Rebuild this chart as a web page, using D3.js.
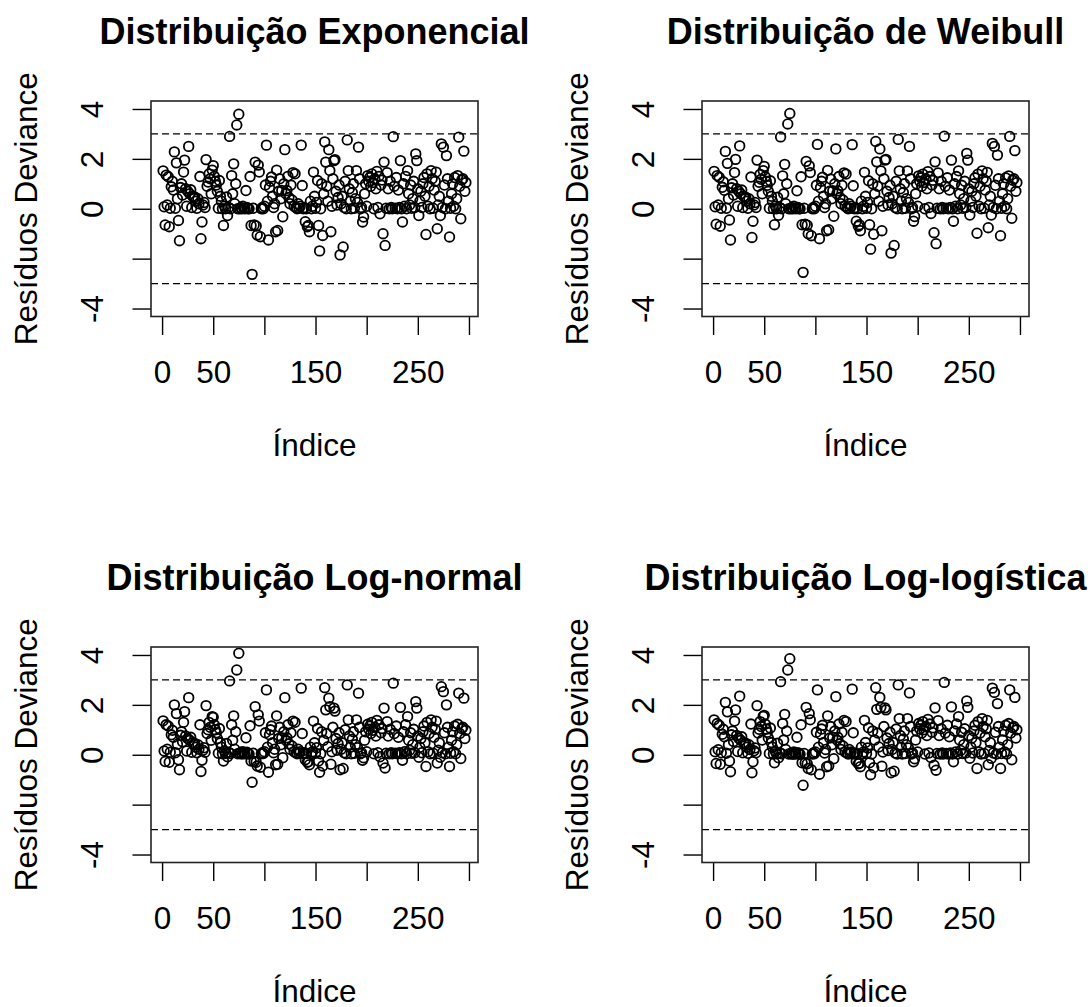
<!DOCTYPE html>
<html>
<head>
<meta charset="utf-8">
<script src="https://cdn.jsdelivr.net/npm/d3@7"></script>
<style>
    body { margin: 0; background: #fff; }
    text { font-family: 'Liberation Sans', Arial, sans-serif; fill: #000; }
</style>
</head>
<body>
<div id="chart"></div>
<script>
// residuos deviance (indice 1..297)
const residExp = [
    1.52, 0.08, -0.65, 1.35, 0.15, 1.28, -0.72, 0.02, 0.88, 1.10,
    0.75, 2.28, 0.02, 1.84, 0.40, -0.47, -1.28, 0.85, 1.00, 0.55,
    1.47, 1.95, 0.80, 0.10, 0.70, 2.50, 0.60, 0.76, 0.05, 0.50,
    0.45, 0.47, 0.30, 0.02, 0.40, 0.20, 1.29, -1.20, -0.53, 0.15,
    0.25, 0.05, 1.97, 0.90, 1.07, 1.40, 1.20, 0.60, 1.55, 1.73,
    1.30, 1.10, 0.95, 0.70, 0.02, 1.13, 0.50, 0.30, 0.00, -0.67,
    0.10, 0.00, 0.47, -0.27, 0.05, 2.90, 0.00, 1.33, 0.60, 1.80,
    0.20, 1.00, 3.36, 0.00, 3.79, 0.00, 0.05, 0.00, 0.10, 0.02,
    0.00, 0.73, 0.05, 0.00, 0.00, 1.29, -0.67, -2.63, 0.02, -0.65,
    1.87, -0.69, -1.05, 1.75, 1.47, -1.12, 0.00, 0.05, 0.00, 0.10,
    0.95, 2.55, 0.30, -1.25, 0.85, 1.10, 1.27, 0.50, 0.05, 0.20,
    -0.92, 1.55, -0.87, 0.70, 1.20, 0.40, 0.73, -0.32, 1.00, 2.37,
    0.60, 0.73, 1.30, 0.45, 0.20, 0.95, 0.35, 1.45, 0.10, 1.40,
    0.05, 0.00, 0.20, 0.02, 0.10, 2.55, 0.93, 0.00, 0.05, -0.52,
    0.00, -0.72, -0.67, -0.92, 0.30, 0.00, 0.10, 1.47, 0.50, 0.02,
    0.25, 1.13, -0.67, -1.69, 0.00, 1.00, -1.07, 0.60, 2.68, 1.87,
    0.90, 0.30, 2.37, 1.53, -0.92, 0.10, 1.20, 1.93, 1.97, 0.70,
    0.15, 0.45, 0.95, -1.85, 0.20, 0.50, -1.53, 0.05, 1.10, 0.00,
    2.76, 1.53, 0.80, 0.30, 0.00, 0.65, 1.00, 0.02, 0.40, 1.53,
    0.25, 2.47, 1.20, 0.00, 0.05, -0.53, -0.33, 0.60, 1.00, 0.10,
    1.33, 1.10, 1.25, 0.90, 1.40, 1.05, 0.00, 1.20, 0.80, 1.50,
    0.05, 1.30, -0.20, 0.95, 1.15, -1.00, 1.87, -1.47, 0.02, 1.45,
    0.80, 0.00, 1.10, 0.05, 0.00, 2.89, 0.90, 0.02, 1.25, 0.00,
    0.75, 0.05, 1.93, 0.00, -0.53, 1.00, 0.10, 1.30, 0.00, 1.53,
    0.60, 0.15, 0.95, 0.02, 0.40, 1.10, 0.05, 2.20, 1.93, 0.80,
    -0.27, 0.30, 0.70, 0.05, 1.00, 1.25, 0.50, -1.03, 1.40, 0.10,
    0.90, 0.00, 1.53, 1.20, 0.02, 0.75, 1.10, 1.47, -0.80, 0.15,
    0.50, -0.27, 2.60, 0.05, 2.47, 0.95, 0.00, 2.13, 1.20, 0.30,
    -1.13, 0.02, 0.60, 1.00, 0.10, 1.25, 0.00, 0.40, 1.33, 2.87,
    0.90, -0.40, 1.15, 1.20, 2.31, 0.70, 1.05
]

const residWeib = [
    1.50, 0.08, -0.62, 1.33, 0.15, 1.26, -0.70, 0.02, 0.86, 1.08,
    0.74, 2.30, 0.02, 1.82, 0.40, -0.45, -1.25, 0.84, 1.00, 0.55,
    1.45, 1.98, 0.80, 0.10, 0.70, 2.52, 0.60, 0.75, 0.05, 0.50,
    0.45, 0.46, 0.30, 0.02, 0.40, 0.20, 1.27, -1.15, -0.50, 0.15,
    0.25, 0.05, 1.95, 0.90, 1.06, 1.38, 1.18, 0.60, 1.53, 1.70,
    1.28, 1.10, 0.94, 0.70, 0.02, 1.12, 0.50, 0.30, 0.00, -0.64,
    0.10, 0.00, 0.46, -0.26, 0.05, 2.88, 0.00, 1.32, 0.60, 1.78,
    0.20, 1.00, 3.40, 0.00, 3.82, 0.00, 0.05, 0.00, 0.10, 0.02,
    0.00, 0.72, 0.05, 0.00, 0.00, 1.28, -0.64, -2.55, 0.02, -0.62,
    1.90, -0.66, -1.00, 1.72, 1.45, -1.08, 0.00, 0.05, 0.00, 0.10,
    0.94, 2.58, 0.30, -1.20, 0.84, 1.10, 1.26, 0.50, 0.05, 0.20,
    -0.88, 1.54, -0.84, 0.70, 1.19, 0.40, 0.72, -0.30, 1.00, 2.40,
    0.60, 0.72, 1.29, 0.45, 0.20, 0.94, 0.35, 1.44, 0.10, 1.39,
    0.05, 0.00, 0.20, 0.02, 0.10, 2.57, 0.92, 0.00, 0.05, -0.50,
    0.00, -0.70, -0.64, -0.88, 0.30, 0.00, 0.10, 1.46, 0.50, 0.02,
    0.25, 1.12, -0.64, -1.62, 0.00, 1.00, -1.02, 0.60, 2.70, 1.88,
    0.90, 0.30, 2.40, 1.52, -0.88, 0.10, 1.20, 1.95, 1.98, 0.70,
    0.15, 0.45, 0.94, -1.78, 0.20, 0.50, -1.47, 0.05, 1.10, 0.00,
    2.78, 1.52, 0.80, 0.30, 0.00, 0.65, 1.00, 0.02, 0.40, 1.52,
    0.25, 2.50, 1.20, 0.00, 0.05, -0.50, -0.31, 0.60, 1.00, 0.10,
    1.32, 1.10, 1.24, 0.90, 1.39, 1.05, 0.00, 1.20, 0.80, 1.49,
    0.05, 1.29, -0.19, 0.95, 1.14, -0.96, 1.88, -1.40, 0.02, 1.44,
    0.80, 0.00, 1.10, 0.05, 0.00, 2.91, 0.90, 0.02, 1.24, 0.00,
    0.75, 0.05, 1.95, 0.00, -0.50, 1.00, 0.10, 1.29, 0.00, 1.52,
    0.60, 0.15, 0.94, 0.02, 0.40, 1.10, 0.05, 2.22, 1.95, 0.80,
    -0.25, 0.30, 0.70, 0.05, 1.00, 1.24, 0.50, -0.98, 1.39, 0.10,
    0.90, 0.00, 1.52, 1.20, 0.02, 0.75, 1.10, 1.46, -0.76, 0.15,
    0.50, -0.25, 2.62, 0.05, 2.50, 0.94, 0.00, 2.15, 1.20, 0.30,
    -1.08, 0.02, 0.60, 1.00, 0.10, 1.24, 0.00, 0.40, 1.32, 2.90,
    0.90, -0.38, 1.14, 1.20, 2.33, 0.70, 1.05
]

const residLnorm = [
    1.36, 0.15, -0.27, 1.20, 0.22, 1.15, -0.30, 0.10, 0.80, 0.98,
    0.70, 2.00, 0.08, 1.65, 0.42, -0.20, -0.60, 0.78, 0.92, 0.52,
    1.30, 1.73, 0.75, 0.15, 0.65, 2.29, 0.58, 0.70, 0.10, 0.48,
    0.42, 0.45, 0.30, 0.08, 0.40, 0.22, 1.20, -0.67, -0.22, 0.18,
    0.28, 0.10, 1.97, 0.85, 1.00, 1.30, 1.10, 0.58, 1.53, 1.50,
    1.20, 1.00, 0.88, 0.65, 0.06, 1.05, 0.48, 0.30, 0.04, -0.25,
    0.15, 0.05, 0.45, -0.08, 0.10, 2.96, 0.05, 1.20, 0.58, 1.56,
    0.22, 0.92, 3.40, 0.04, 4.07, 0.05, 0.10, 0.03, 0.12, 0.06,
    0.04, 0.68, 0.10, 0.05, 0.03, 1.16, -0.25, -1.10, 0.06, -0.27,
    1.93, -0.30, -0.45, 1.60, 1.35, -0.50, 0.04, 0.08, 0.05, 0.12,
    0.88, 2.60, 0.30, -0.70, 0.80, 1.00, 1.15, 0.48, 0.08, 0.22,
    -0.40, 1.56, -0.38, 0.65, 1.10, 0.40, 0.68, -0.12, 0.92, 2.29,
    0.58, 0.68, 1.20, 0.44, 0.22, 0.88, 0.35, 1.35, 0.12, 1.30,
    0.08, 0.04, 0.22, 0.06, 0.12, 2.67, 0.85, 0.04, 0.08, -0.20,
    0.05, -0.30, -0.28, -0.40, 0.30, 0.04, 0.12, 1.35, 0.48, 0.06,
    0.28, 1.05, -0.25, -0.70, 0.04, 0.92, -0.45, 0.58, 2.69, 1.80,
    0.85, 0.32, 2.27, 1.93, -0.38, 0.12, 1.10, 1.87, 1.75, 0.65,
    0.18, 0.45, 0.88, -0.60, 0.22, 0.48, -0.55, 0.08, 1.00, 0.04,
    2.80, 1.40, 0.75, 0.30, 0.04, 0.62, 0.92, 0.06, 0.40, 1.40,
    0.28, 2.47, 1.10, 0.04, 0.08, -0.22, -0.12, 0.58, 0.92, 0.12,
    1.22, 1.02, 1.15, 0.85, 1.30, 0.98, 0.04, 1.10, 0.75, 1.38,
    0.08, 1.20, -0.08, 0.88, 1.05, -0.33, 1.87, -0.53, 0.06, 1.33,
    0.75, 0.04, 1.02, 0.08, 0.04, 2.87, 0.85, 0.06, 1.15, 0.04,
    0.70, 0.08, 1.90, 0.04, -0.22, 0.92, 0.12, 1.20, 0.04, 1.53,
    0.58, 0.18, 0.88, 0.06, 0.40, 1.02, 0.08, 2.13, 1.87, 0.75,
    -0.10, 0.30, 0.65, 0.08, 0.92, 1.15, 0.48, -0.47, 1.30, 0.12,
    0.85, 0.04, 1.40, 1.10, 0.06, 0.70, 1.02, 1.35, -0.33, 0.18,
    0.48, -0.10, 2.73, 0.08, 2.53, 0.88, 0.04, 2.00, 1.10, 0.30,
    -0.47, 0.06, 0.58, 0.92, 0.12, 1.15, 0.04, 0.40, 1.22, 2.47,
    0.85, -0.15, 1.05, 1.10, 2.27, 0.65, 0.98
]

const residLlog = [
    1.40, 0.12, -0.35, 1.25, 0.20, 1.18, -0.38, 0.08, 0.82, 1.02,
    0.72, 2.10, 0.06, 1.72, 0.40, -0.25, -0.68, 0.80, 0.95, 0.53,
    1.35, 1.80, 0.77, 0.13, 0.66, 2.35, 0.58, 0.72, 0.08, 0.48,
    0.43, 0.46, 0.30, 0.06, 0.40, 0.21, 1.23, -0.72, -0.28, 0.16,
    0.27, 0.08, 1.97, 0.87, 1.02, 1.33, 1.13, 0.59, 1.54, 1.58,
    1.23, 1.03, 0.90, 0.67, 0.05, 1.07, 0.49, 0.30, 0.03, -0.32,
    0.13, 0.04, 0.46, -0.12, 0.08, 2.93, 0.04, 1.25, 0.59, 1.62,
    0.21, 0.95, 3.40, 0.03, 3.85, 0.04, 0.08, 0.02, 0.11, 0.05,
    0.03, 0.70, 0.08, 0.04, 0.02, 1.20, -0.32, -1.22, 0.05, -0.33,
    1.90, -0.36, -0.55, 1.65, 1.40, -0.60, 0.03, 0.07, 0.04, 0.11,
    0.90, 2.60, 0.30, -0.78, 0.82, 1.03, 1.18, 0.49, 0.07, 0.21,
    -0.48, 1.56, -0.45, 0.67, 1.13, 0.40, 0.70, -0.16, 0.95, 2.33,
    0.59, 0.70, 1.23, 0.44, 0.21, 0.90, 0.35, 1.38, 0.11, 1.33,
    0.07, 0.03, 0.21, 0.05, 0.11, 2.63, 0.88, 0.03, 0.07, -0.26,
    0.04, -0.36, -0.34, -0.48, 0.30, 0.03, 0.11, 1.38, 0.49, 0.05,
    0.27, 1.08, -0.32, -0.80, 0.03, 0.95, -0.52, 0.59, 2.69, 1.82,
    0.87, 0.31, 2.30, 1.90, -0.46, 0.11, 1.13, 1.88, 1.80, 0.67,
    0.17, 0.45, 0.90, -0.72, 0.21, 0.49, -0.66, 0.07, 1.03, 0.03,
    2.80, 1.45, 0.77, 0.30, 0.03, 0.63, 0.95, 0.05, 0.40, 1.45,
    0.27, 2.48, 1.13, 0.03, 0.07, -0.28, -0.16, 0.59, 0.95, 0.11,
    1.25, 1.04, 1.18, 0.87, 1.33, 1.00, 0.03, 1.13, 0.77, 1.42,
    0.07, 1.23, -0.11, 0.90, 1.08, -0.42, 1.88, -0.62, 0.05, 1.37,
    0.77, 0.03, 1.04, 0.07, 0.03, 2.90, 0.87, 0.05, 1.18, 0.03,
    0.72, 0.07, 1.92, 0.03, -0.28, 0.95, 0.11, 1.23, 0.03, 1.53,
    0.59, 0.17, 0.90, 0.05, 0.40, 1.04, 0.07, 2.16, 1.90, 0.77,
    -0.14, 0.30, 0.67, 0.07, 0.95, 1.18, 0.49, -0.55, 1.33, 0.11,
    0.87, 0.03, 1.45, 1.13, 0.05, 0.72, 1.04, 1.38, -0.40, 0.17,
    0.49, -0.14, 2.67, 0.07, 2.50, 0.90, 0.03, 2.05, 1.13, 0.30,
    -0.55, 0.05, 0.59, 0.95, 0.11, 1.18, 0.03, 0.40, 1.25, 2.60,
    0.87, -0.20, 1.08, 1.13, 2.30, 0.67, 1.00
]

const titles = ['Distribuição Exponencial', 'Distribuição de Weibull',
    'Distribuição Log-normal', 'Distribuição Log-logística']
const xTicks = [0, 50, 100, 150, 200, 250, 300]
const xTickLabels = [0, 50, 150, 250]
const yTicks = [-4, -2, 0, 2, 4]
const yTickLabels = [-4, 0, 2, 4]
const limits = [-3, 3]
const xTitle = 'Índice'
const yTitle = 'Resíduos Deviance'

const series = [residExp, residWeib, residLnorm, residLlog]

const width = 1091
const height = 1007
const boxW = 327
const boxH = 215.5
const origins = [[151, 101], [702, 101], [151, 647], [702, 647]]
const fontSize = 31.5

const svg = d3.select('#chart').append('svg')
    .attr('width', width)
    .attr('height', height)
    .attr('viewBox', `0 0 ${width} ${height}`)

svg.append('rect')
    .attr('width', width)
    .attr('height', height)
    .attr('fill', '#fff')

series.forEach((values, k) => {
    const n = values.length
    const g = svg.append('g')
        .attr('transform', `translate(${origins[k][0]}, ${origins[k][1]})`)

    // escalas como no R (extensao de 4%)
    const xScale = d3.scaleLinear()
        .domain([1 - 0.04 * (n - 1), n + 0.04 * (n - 1)])
        .range([0, boxW])
    const yScale = d3.scaleLinear()
        .domain([-4 - 0.32, 4 + 0.32])
        .range([boxH, 0])

    // eixo x
    const xAxis = g.append('g')
        .attr('transform', `translate(0, ${boxH})`)
        .call(d3.axisBottom(xScale)
            .tickValues(xTicks)
            .tickSize(18.5)
            .tickFormat(d => xTickLabels.includes(d) ? d : ''))
    xAxis.select('.domain').remove()
    xAxis.selectAll('line').attr('stroke', '#000').attr('stroke-width', 1.4)
    xAxis.selectAll('text')
        .attr('y', 66.5)
        .attr('dy', 0)
        .attr('font-size', fontSize)
        .attr('font-family', "'Liberation Sans', Arial, sans-serif")

    // eixo y
    const yAxis = g.append('g')
        .call(d3.axisLeft(yScale)
            .tickValues(yTicks)
            .tickSize(18.5)
            .tickFormat(d => yTickLabels.includes(d) ? d : ''))
    yAxis.select('.domain').remove()
    yAxis.selectAll('line').attr('stroke', '#000').attr('stroke-width', 1.4)
    yAxis.selectAll('text')
        .attr('transform', 'rotate(-90)')
        .attr('x', 0)
        .attr('y', -48)
        .attr('dy', 0)
        .attr('text-anchor', 'middle')
        .attr('font-size', fontSize)
        .attr('font-family', "'Liberation Sans', Arial, sans-serif")

    // linhas de referencia
    g.append('g')
        .selectAll('line')
        .data(limits)
        .join('line')
        .attr('x1', 0)
        .attr('x2', boxW)
        .attr('y1', d => yScale(d))
        .attr('y2', d => yScale(d))
        .attr('stroke', '#000')
        .attr('stroke-width', 1.4)
        .attr('stroke-dasharray', '7,4')

    // pontos
    g.append('g')
        .selectAll('circle')
        .data(values)
        .join('circle')
        .attr('cx', (d, i) => xScale(i + 1))
        .attr('cy', d => yScale(d))
        .attr('r', 4.8)
        .attr('fill', 'none')
        .attr('stroke', '#000')
        .attr('stroke-width', 1.8)

    // caixa
    g.append('rect')
        .attr('width', boxW)
        .attr('height', boxH)
        .attr('fill', 'none')
        .attr('stroke', '#222')
        .attr('stroke-width', 1.6)

    // titulos
    g.append('text')
        .attr('x', boxW / 2)
        .attr('y', -57)
        .attr('text-anchor', 'middle')
        .attr('font-size', 36)
        .attr('font-weight', 'bold')
        .text(titles[k])

    g.append('text')
        .attr('x', boxW / 2)
        .attr('y', boxH + 139)
        .attr('text-anchor', 'middle')
        .attr('font-size', fontSize)
        .text(xTitle)

    g.append('text')
        .attr('transform', `translate(-114, ${boxH / 2}) rotate(-90)`)
        .attr('text-anchor', 'middle')
        .attr('font-size', fontSize)
        .text(yTitle)
})
</script>
</body>
</html>
